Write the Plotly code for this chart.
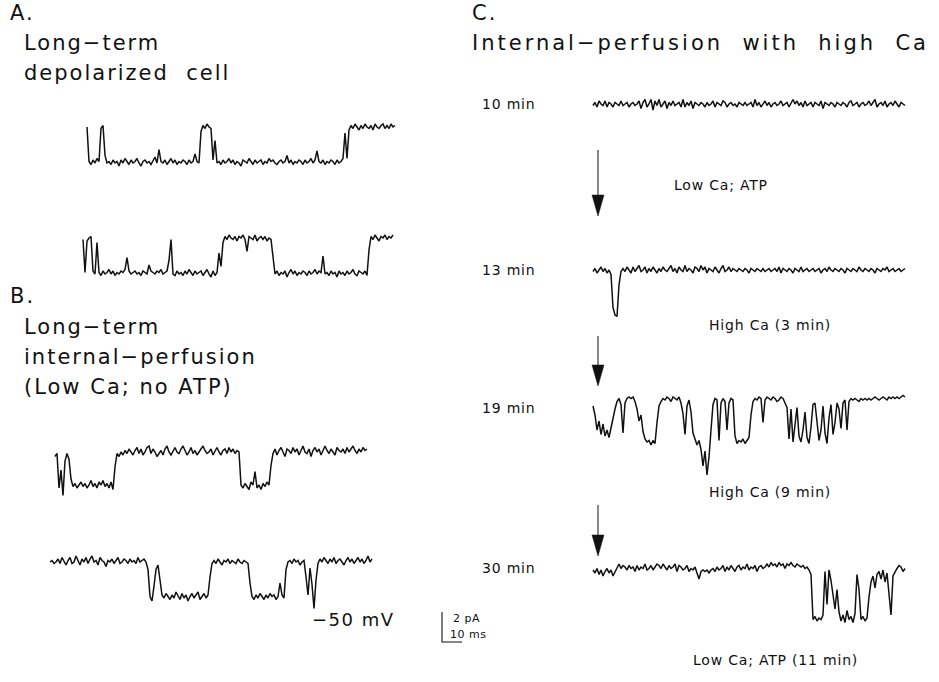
import plotly.graph_objects as go

# Canvas and recording scale (one scale for every trace and the calibration bar)
W, H = 939, 682
PX_PER_MS = 2.0
PX_PER_PA = 15.0
DT_MS = 1.0
SCALE_PA = 2
SCALE_MS = 10
HOLDING = "−50 mV"

# Single-channel current records, pA relative to the closed level, 1 ms per sample
A_TOP = [
    0.0, -2.3, -2.5, -2.2, -2.4, -2.1, -2.3, -0.1, 0.1, -1.9,
    -2.4, -2.3, -2.5, -2.2, -2.4, -2.3, -2.6, -2.2, -2.4, -2.1,
    -2.3, -2.5, -2.2, -2.4, -2.3, -2.1, -2.4, -2.6, -2.3, -2.2,
    -2.4, -2.3, -2.5, -2.2, -2.0, -2.4, -1.5, -2.3, -2.4, -2.2,
    -2.5, -2.3, -2.1, -2.4, -2.2, -2.5, -2.3, -2.4, -2.2, -2.3,
    -2.5, -2.2, -2.4, -2.3, -1.8, -2.3, -2.4, -0.3, 0.1, -0.1,
    0.2, 0.0, -0.1, -2.2, -0.9, -2.4, -2.3, -2.5, -2.2, -2.4,
    -2.3, -2.1, -2.4, -2.2, -2.5, -2.3, -2.4, -2.6, -2.2, -2.3,
    -2.4, -2.1, -2.3, -2.5, -2.2, -2.4, -2.3, -2.2, -2.5, -2.3,
    -2.4, -2.1, -2.3, -2.2, -2.4, -2.5, -2.3, -2.2, -2.4, -2.3,
    -1.9, -2.4, -2.2, -2.5, -2.3, -2.4, -2.2, -2.3, -2.5, -2.2,
    -2.4, -2.3, -2.1, -2.4, -2.2, -1.6, -2.3, -2.4, -2.2, -2.5,
    -2.3, -2.4, -2.2, -2.3, -2.5, -2.2, -2.4, -2.3, -2.1, -0.4,
    -2.1, -0.2, 0.1, -0.1, 0.2, 0.0, -0.2, 0.1, -0.1, 0.2,
    0.0, -0.1, 0.1, -0.2, 0.2, 0.0, -0.1, 0.1, 0.2, -0.1,
    0.1, -0.1, 0.2, 0.0, 0.1,
]

A_BOTTOM = [
    -0.1, -2.3, -0.2, 0.0, 0.1, -2.2, -2.4, -0.3, -2.3, -2.5,
    -2.2, -2.4, -2.3, -2.1, -2.4, -2.2, -2.5, -2.3, -2.4, -2.2,
    -2.3, -2.1, -1.3, -2.2, -2.4, -2.3, -2.2, -2.4, -2.3, -2.5,
    -2.2, -2.3, -2.4, -1.8, -2.2, -2.3, -2.4, -2.2, -2.3, -2.1,
    -2.4, -2.3, -2.2, -1.5, -0.1, -2.4, -2.5, -2.2, -2.4, -2.3,
    -2.5, -2.2, -2.4, -2.1, -2.3, -2.5, -2.2, -2.4, -2.3, -2.2,
    -2.5, -2.3, -2.1, -2.4, -2.6, -2.2, -2.5, -2.3, -1.0, -1.9,
    -0.3, 0.1, -0.1, 0.2, 0.0, -0.1, 0.1, -0.2, 0.1, 0.0,
    0.2, -0.1, -0.9, 0.1, 0.0, -0.1, 0.2, -0.2, 0.0, 0.1,
    -0.1, 0.1, -0.2, 0.0, -0.1, -1.5, -2.4, -2.2, -2.5, -2.3,
    -2.4, -2.2, -2.6, -2.3, -2.1, -2.4, -2.2, -2.5, -2.3, -2.4,
    -2.2, -2.3, -2.5, -2.2, -2.4, -2.3, -2.1, -2.4, -2.2, -2.3,
    -1.2, -2.4, -2.3, -2.5, -2.2, -2.4, -2.3, -2.6, -2.2, -2.4,
    -2.3, -2.5, -2.2, -2.4, -2.3, -2.1, -2.4, -2.5, -2.2, -2.3,
    -2.4, -2.2, -2.5, -0.8, 0.1, -0.1, 0.2, 0.0, -0.2, 0.1,
    0.0, 0.2, -0.1, 0.1, 0.0, 0.2,
]

B_TOP = [
    -0.3, -0.1, -2.4, -1.2, -2.9, -0.6, -0.1, -0.5, -1.8, -2.3,
    -2.1, -2.4, -2.2, -2.0, -2.3, -2.1, -2.4, -2.2, -1.9, -2.3,
    -2.1, -2.4, -2.0, -2.2, -1.9, -2.3, -2.1, -2.4, -2.0, -2.5,
    -1.0, -0.1, -0.3, 0.0, -0.2, 0.1, -0.1, 0.2, 0.0, -0.2,
    0.1, 0.3, -0.1, 0.2, -0.2, 0.0, 0.3, 0.4, -0.1, 0.2,
    0.0, -0.3, -0.1, 0.1, -0.2, 0.2, 0.4, 0.0, -0.2, 0.1,
    0.3, 0.0, -0.1, 0.2, 0.4, 0.1, -0.2, 0.0, 0.3, -0.1,
    0.1, -0.2, 0.0, 0.2, 0.4, 0.1, -0.1, 0.0, 0.2, -0.2,
    0.1, 0.3, 0.0, -0.2, 0.1, 0.2, -0.1, 0.3, 0.0, 0.2,
    -0.1, 0.1, 0.0, -2.2, -2.4, -2.1, -2.3, -2.5, -2.0, -2.2,
    -1.3, -2.4, -2.2, -2.5, -2.1, -2.3, -2.0, -2.2, -0.9, -0.1,
    0.2, -0.2, 0.1, 0.3, 0.0, -0.3, 0.2, 0.1, -0.1, 0.3,
    0.0, 0.2, -0.2, 0.1, 0.4, 0.0, -0.1, 0.2, -0.3, 0.1,
    0.3, 0.0, 0.2, -0.2, 0.1, 0.4, 0.1, -0.1, 0.2, 0.0,
    -0.2, 0.3, 0.1, 0.0, 0.2, -0.1, 0.3, 0.0, 0.2, 0.4,
    0.1, -0.1, 0.2, 0.0, 0.3, 0.1, 0.2,
]

B_BOTTOM = [
    0.0, 0.1, -0.1, 0.0, 0.2, -0.1, 0.3, 0.0, -0.2, 0.1,
    0.3, -0.1, 0.0, 0.4, 0.1, -0.2, 0.2, 0.0, 0.3, -0.1,
    0.2, 0.4, 0.0, 0.1, -0.2, 0.3, 0.1, 0.0, -0.3, 0.1,
    0.0, 0.2, -0.1, 0.1, 0.3, -0.1, 0.0, 0.2, 0.1, -0.1,
    0.2, 0.0, 0.1, -0.1, 0.3, 0.0, 0.1, 0.2, 0.0, -0.5,
    -2.3, -2.6, -1.6, -0.5, -0.2, -1.2, -2.2, -2.4, -2.1, -2.3,
    -2.5, -2.2, -2.4, -2.0, -2.3, -2.5, -2.1, -2.4, -2.2, -2.6,
    -2.3, -2.1, -2.4, -2.2, -2.0, -2.5, -2.3, -2.1, -2.4, -2.2,
    -1.0, -0.1, 0.1, -0.1, 0.2, 0.0, -0.2, 0.1, 0.0, 0.2,
    -0.1, 0.1, 0.0, -0.1, 0.2, 0.0, -0.1, 0.1, 0.0, -0.1,
    -1.4, -2.3, -2.5, -2.2, -2.4, -2.1, -2.3, -2.5, -2.2, -2.4,
    -2.1, -2.3, -2.2, -2.5, -2.3, -1.4, -2.2, -2.4, -0.5, 0.0,
    0.1, -0.1, 0.2, 0.0, 0.1, -0.2, 0.0, 0.1, -1.0, -2.2,
    -0.4, -1.5, -3.1, -1.2, -0.1, 0.2, 0.0, 0.3, 0.1, -0.1,
    0.2, 0.0, 0.3, -0.1, 0.1, 0.2, 0.0, -0.2, 0.1, 0.3,
    0.0, 0.2, -0.1, 0.1, 0.3, 0.0, 0.2, -0.1, 0.1, 0.4,
    0.0, 0.2,
]

C_10MIN = [
    -0.1, 0.1, -0.2, 0.2, 0.0, -0.1, 0.2, -0.2, 0.1, 0.0,
    -0.2, 0.1, 0.0, -0.1, 0.2, -0.1, 0.0, 0.1, -0.2, 0.0,
    0.1, -0.1, 0.0, 0.2, -0.3, 0.1, 0.3, -0.2, 0.0, 0.3,
    -0.4, 0.2, -0.1, 0.3, -0.2, 0.0, 0.2, -0.3, 0.1, -0.1,
    0.2, -0.1, 0.0, 0.1, -0.2, 0.3, -0.2, 0.1, -0.1, 0.2,
    -0.3, 0.1, 0.0, -0.1, 0.1, 0.0, -0.2, 0.1, -0.1, 0.0,
    0.2, -0.2, 0.1, 0.0, -0.1, 0.2, 0.1, -0.2, 0.0, 0.1,
    -0.1, 0.0, -0.2, 0.1, 0.0, -0.1, 0.1, -0.1, 0.0, 0.1,
    -0.2, 0.3, -0.1, 0.1, -0.2, 0.0, 0.2, -0.1, 0.1, -0.2,
    0.0, 0.1, -0.1, 0.0, 0.2, -0.1, 0.0, 0.1, -0.2, 0.1,
    0.3, 0.0, 0.2, -0.1, 0.1, -0.2, 0.2, -0.1, 0.0, 0.1,
    -0.2, 0.1, 0.0, -0.1, 0.2, -0.3, 0.1, 0.0, -0.1, 0.1,
    0.0, -0.2, 0.1, 0.0, -0.1, 0.1, 0.0, -0.2, 0.1, 0.2,
    -0.1, 0.0, 0.1, -0.2, 0.0, 0.1, -0.1, 0.0, 0.2, -0.1,
    0.1, 0.3, -0.2, 0.0, 0.1, -0.1, 0.2, -0.2, 0.0, 0.1,
    -0.1, 0.2, 0.0, -0.2, 0.1, 0.0, -0.1,
]

C_13MIN = [
    -0.1, 0.1, -0.2, 0.0, 0.2, -0.1, 0.1, -0.2, 0.0, -0.3,
    -2.5, -3.0, -3.1, -1.0, -0.1, 0.1, -0.1, 0.2, 0.0, -0.2,
    0.2, -0.1, 0.1, 0.3, -0.1, 0.0, 0.2, -0.2, 0.1, -0.1,
    0.2, 0.0, -0.2, 0.1, -0.1, 0.2, 0.0, -0.1, 0.1, 0.3,
    -0.1, 0.1, -0.2, 0.2, 0.0, -0.1, 0.3, -0.1, 0.1, 0.0,
    -0.2, 0.2, 0.1, -0.1, 0.3, 0.0, 0.2, -0.2, 0.1, 0.0,
    -0.1, 0.2, 0.0, -0.2, 0.1, 0.3, -0.1, 0.0, 0.2, -0.1,
    0.1, 0.0, -0.1, 0.1, 0.0, -0.1, 0.1, 0.0, -0.2, 0.1,
    0.0, -0.1, 0.1, 0.0, -0.1, 0.1, -0.1, 0.0, 0.1, -0.1,
    0.0, 0.1, -0.1, 0.2, -0.2, 0.1, 0.0, -0.1, 0.1, 0.0,
    -0.2, 0.1, 0.0, -0.1, 0.2, -0.1, 0.0, 0.1, -0.1, 0.0,
    0.1, -0.1, 0.0, 0.1, -0.2, 0.0, 0.1, -0.1, 0.2, 0.0,
    -0.1, 0.1, 0.0, -0.1, 0.1, 0.0, -0.2, 0.1, 0.0, -0.1,
    0.1, 0.0, -0.1, 0.2, 0.0, -0.1, 0.1, 0.0, -0.1, 0.1,
    0.0, -0.2, 0.1, 0.0, -0.1, 0.1, 0.0, 0.2, -0.1, 0.0,
    0.1, -0.1, 0.0, 0.1, -0.1, 0.0, 0.1,
]

C_19MIN = [
    -0.4, -1.0, -2.0, -1.4, -2.3, -1.6, -2.4, -2.0, -2.5, -1.8,
    -1.2, -0.6, -0.1, 0.1, -0.3, -2.2, -0.2, 0.1, 0.2, 0.1,
    0.2, -0.1, -0.6, -1.4, -1.0, -2.1, -2.6, -2.8, -2.7, -3.0,
    -2.7, -2.9, -1.5, -0.4, -0.1, 0.1, 0.0, 0.2, 0.1, -0.1,
    0.2, 0.1, 0.0, 0.2, -0.2, -0.9, -2.3, -0.4, 0.0, -0.8,
    -2.2, -2.6, -3.0, -2.7, -3.3, -4.4, -3.4, -5.0, -3.8, -2.0,
    -0.3, 0.1, 0.0, -2.7, -0.2, 0.1, -0.1, -2.0, -0.2, 0.1,
    0.0, -2.4, -2.9, -2.7, -2.8, -2.6, -2.9, -2.7, -2.5, -1.0,
    -0.1, 0.1, 0.0, 0.2, 0.1, -1.5, 0.0, 0.2, 0.1, 0.0,
    0.2, 0.1, -0.1, 0.0, 0.2, 0.1, -0.2, -0.5, -2.6, -0.6,
    -2.8, -1.5, -0.5, -2.4, -2.8, -2.0, -0.8, -2.5, -2.9, -1.8,
    -0.3, -0.2, -1.6, -2.7, -2.0, -0.4, -2.2, -2.9, -1.2, -0.3,
    -2.3, -1.5, -0.2, -0.6, -1.9, -0.2, 0.0, -2.0, -0.1, 0.1,
    0.0, 0.1, 0.0, -0.1, 0.1, 0.0, 0.1, 0.0, 0.1, 0.0,
    0.1, 0.2, 0.1, 0.0, 0.1, 0.2, 0.1, 0.0, 0.2, 0.1,
    0.2, 0.1, 0.2, 0.1, 0.2, 0.3, 0.2,
]

C_30MIN = [
    -0.2, -0.4, -0.1, -0.5, -0.2, -0.6, -0.3, -0.1, -0.4, -0.2,
    -0.6, -0.3, 0.0, 0.2, -0.1, 0.1, 0.0, -0.2, 0.1, -0.1,
    0.0, -0.3, 0.1, -0.2, 0.0, -0.1, 0.2, -0.2, -0.1, 0.1,
    -0.2, 0.0, 0.2, 0.1, -0.1, 0.2, 0.0, -0.2, 0.1, -0.1,
    0.0, 0.2, -0.3, 0.1, 0.0, -0.2, -0.1, 0.1, -0.3, -0.1,
    -0.2, 0.0, -0.4, -0.8, -0.3, -0.2, -0.3, -0.2, -0.4, -0.2,
    -0.1, -0.3, 0.0, -0.2, -0.1, 0.1, -0.3, 0.0, -0.2, 0.1,
    -0.1, -0.3, 0.0, 0.1, -0.2, 0.0, -0.1, 0.2, -0.2, 0.0,
    -0.1, 0.1, -0.3, 0.0, 0.1, -0.1, 0.0, 0.2, 0.0, 0.3,
    0.1, 0.2, 0.0, 0.3, 0.1, 0.2, -0.1, 0.2, 0.1, 0.3,
    0.1, 0.0, 0.2, 0.1, 0.0, 0.1, -0.1, 0.0, -0.2, -0.5,
    -3.5, -3.3, -3.6, -3.4, -3.5, -3.2, -0.3, -2.5, -0.2, -0.9,
    -1.8, -2.8, -1.5, -3.0, -3.6, -3.2, -3.7, -2.9, -3.5, -3.3,
    -3.7, -3.1, -0.5, -1.5, -3.5, -3.3, -3.6, -3.4, -2.0, -1.0,
    -0.6, -1.4, -0.5, -0.3, -0.8, -0.2, -1.0, -0.4, -1.8, -3.2,
    -0.6, -0.3, -0.1, 0.1, 0.0, -0.3, -0.1,
]

# Text content
PANEL_A = ["A.", "Long−term", "depolarized\u00a0\u00a0cell"]
PANEL_B = ["B.", "Long−term", "internal−perfusion", "(Low\u00a0Ca;\u00a0no\u00a0ATP)"]
PANEL_C = ["C.", "Internal−perfusion\u00a0\u00a0with\u00a0\u00a0high\u00a0\u00a0Ca"]
C_TIMES = ["10 min", "13 min", "19 min", "30 min"]
C_CONDITIONS = ["Low Ca; ATP", "High Ca (3 min)", "High Ca (9 min)", "Low Ca; ATP (11 min)"]

FONT = "DejaVu Sans"
INK = "#111111"

# Where each record sits: (values, left pixel of t=0, pixel row of the closed level)
records = [
    (A_TOP, 87, 127),
    (A_BOTTOM, 83, 238),
    (B_TOP, 55, 452),
    (B_BOTTOM, 50, 562),
    (C_10MIN, 593, 104),
    (C_13MIN, 593, 270),
    (C_19MIN, 593, 400),
    (C_30MIN, 593, 567),
]

Y_LO, Y_HI = -5.6, 1.0


def axis_pair(x0_px, y0_px, t_lo, t_hi, i_lo, i_hi):
    """Axis domains that keep the common ms/pA pixel scale, with t=0, I=0 at (x0_px, y0_px)."""
    xd = [(x0_px + t_lo * PX_PER_MS) / W, (x0_px + t_hi * PX_PER_MS) / W]
    yd = [1 - (y0_px - i_lo * PX_PER_PA) / H, 1 - (y0_px - i_hi * PX_PER_PA) / H]
    return xd, yd


fig = go.Figure()
layout_axes = {}

for k, (vals, x0, y0) in enumerate(records, start=1):
    t = [i * DT_MS for i in range(len(vals))]
    t_lo, t_hi = -2.0, t[-1] + 2.0
    xd, yd = axis_pair(x0, y0, t_lo, t_hi, Y_LO, Y_HI)
    sfx = "" if k == 1 else str(k)
    layout_axes["xaxis" + sfx] = dict(domain=xd, range=[t_lo, t_hi], visible=False,
                                      fixedrange=True, anchor="y" + sfx)
    layout_axes["yaxis" + sfx] = dict(domain=yd, range=[Y_LO, Y_HI], visible=False,
                                      fixedrange=True, anchor="x" + sfx)
    fig.add_trace(go.Scatter(x=t, y=vals, mode="lines", xaxis="x" + sfx, yaxis="y" + sfx,
                             line=dict(color=INK, width=1.5), hoverinfo="skip"))

# Calibration bar: SCALE_PA vertical, SCALE_MS horizontal, corner at (442, 642)
k = len(records) + 1
sfx = str(k)
xd, yd = axis_pair(442, 642, -1.0, SCALE_MS + 1.0, -0.2, SCALE_PA + 0.2)
layout_axes["xaxis" + sfx] = dict(domain=xd, range=[-1.0, SCALE_MS + 1.0], visible=False,
                                  fixedrange=True, anchor="y" + sfx)
layout_axes["yaxis" + sfx] = dict(domain=yd, range=[-0.2, SCALE_PA + 0.2], visible=False,
                                  fixedrange=True, anchor="x" + sfx)
fig.add_trace(go.Scatter(x=[0, 0, SCALE_MS], y=[SCALE_PA, 0, 0], mode="lines",
                         xaxis="x" + sfx, yaxis="y" + sfx,
                         line=dict(color=INK, width=1.1), hoverinfo="skip"))


def spaced(text, ls):
    return f'<span style="letter-spacing:{ls}px">{text}</span>'


annotations = []


def label(text, x_px, y_px, size, ls, anchor="left"):
    annotations.append(dict(
        text=spaced(text, ls), x=x_px / W, y=1 - y_px / H, xref="paper", yref="paper",
        xanchor=anchor, yanchor="middle", showarrow=False,
        font=dict(family=FONT, size=size, color=INK),
    ))


# Panel headings
label(PANEL_A[0], 8, 13, 21, 2)
label(PANEL_A[1], 22, 43, 21, 2)
label(PANEL_A[2], 22, 73, 21, 2)
label(PANEL_B[0], 8, 296, 21, 2)
label(PANEL_B[1], 22, 327, 21, 2)
label(PANEL_B[2], 22, 357, 21, 2)
label(PANEL_B[3], 22, 387, 21, 2)
label(PANEL_C[0], 470, 13, 21, 2)
label(PANEL_C[1], 470, 43, 21, 3)

# Time stamps and solution notes for panel C
for txt, y in zip(C_TIMES, [104, 270, 408, 568]):
    label(txt, 480, y, 14, 0.8)
for txt, (xc, y) in zip(C_CONDITIONS, [(721, 185), (770, 325), (770, 492), (775, 660)]):
    label(txt, xc, y, 14, 0.8, anchor="center")

# Holding potential and calibration labels
label(HOLDING, 310, 619, 18, 1.5)
label(f"{SCALE_PA} pA", 451, 618, 11, 0.5)
label(f"{SCALE_MS} ms", 448, 634, 11, 0.5)

# Arrows between the panel C records
shapes = []
for y_start, y_tip in [(150, 216), (336, 386), (505, 556)]:
    x = 598
    head = 21
    shapes.append(dict(type="line", xref="paper", yref="paper",
                       x0=x / W, x1=x / W, y0=1 - y_start / H, y1=1 - (y_tip - head) / H,
                       line=dict(color=INK, width=1)))
    hx = 6 / W
    yb = 1 - (y_tip - head) / H
    yt = 1 - y_tip / H
    shapes.append(dict(type="path", xref="paper", yref="paper",
                       path=f"M {x / W - hx} {yb} L {x / W + hx} {yb} L {x / W} {yt} Z",
                       fillcolor=INK, line=dict(color=INK, width=0.5)))

fig.update_layout(
    width=W, height=H, margin=dict(l=0, r=0, t=0, b=0),
    paper_bgcolor="white", plot_bgcolor="white", showlegend=False,
    annotations=annotations, shapes=shapes, **layout_axes,
)

fig.write_html("out.html", config={"displayModeBar": False})
